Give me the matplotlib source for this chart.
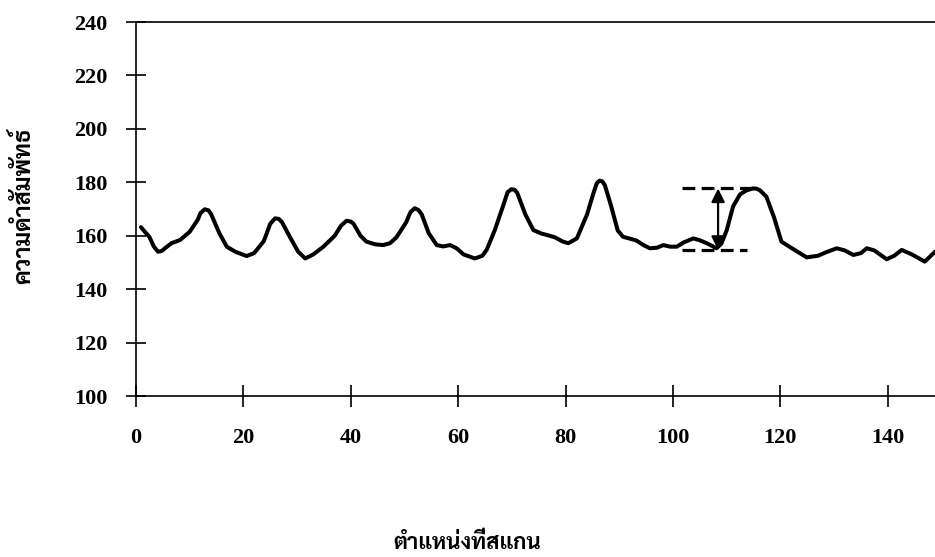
import numpy as np
import matplotlib
matplotlib.use("Agg")
import matplotlib.pyplot as plt
from matplotlib import font_manager
from matplotlib.ft2font import FT2Font

# scanned position vs relative darkness
position = [0.9, 2.5, 3.3, 4.1, 4.8, 5.5, 6.6, 8.2, 10.0, 11.5, 12.0, 12.8, 13.5, 14.0, 15.5,
            16.9, 18.5, 20.6, 22.0, 23.8, 25.0, 25.9, 26.6, 27.2, 28.8, 30.2, 31.5, 33.0,
            34.9, 37.0, 38.2, 39.2, 40.0, 40.5, 41.8, 42.9, 44.5, 46.0, 47.3, 48.5, 50.3,
            51.1, 51.9, 52.6, 53.2, 54.5, 56.0, 57.2, 58.5, 59.7, 61.0, 63.1, 64.5, 65.3,
            66.8, 68.5, 69.2, 69.9, 70.5, 71.0, 72.5, 74.0, 75.5, 76.5, 78.0, 79.5, 80.5,
            82.1, 84.0, 85.2, 85.8, 86.3, 86.8, 87.3, 88.5, 89.7, 90.7, 92.0, 93.2, 94.5,
            95.7, 97.0, 98.2, 99.5, 100.7, 102.0, 103.8, 105.0, 106.5, 108.1, 109.0, 110.0,
            111.2, 112.5, 113.7, 114.9, 115.6, 116.2, 117.4, 118.8, 120.2, 122.0, 124.9,
            127.0, 128.5, 130.5, 132.0, 133.6, 135.0, 136.1, 137.5, 139.8, 141.2, 142.6,
            144.5, 146.9, 148.8]
darkness = [163.2, 159.5, 156.0, 154.0, 154.3, 155.5, 157.2, 158.4, 161.5, 166.0, 168.5,
            169.9, 169.5, 168.0, 161.0, 155.9, 154.0, 152.4, 153.5, 158.0, 164.5, 166.5,
            166.3, 165.0, 159.0, 154.0, 151.5, 153.0, 155.9, 160.0, 163.8, 165.6, 165.3,
            164.5, 160.0, 157.8, 156.8, 156.5, 157.2, 159.4, 165.0, 168.8, 170.3, 169.6,
            168.0, 161.0, 156.5, 156.0, 156.5, 155.3, 153.0, 151.5, 152.5, 154.7, 162.0,
            172.0, 176.3, 177.4, 177.2, 176.0, 168.0, 162.1, 160.8, 160.3, 159.4, 157.8,
            157.2, 159.0, 168.0, 176.0, 179.6, 180.6, 180.4, 179.0, 171.0, 162.0, 159.6,
            158.9, 158.2, 156.5, 155.3, 155.5, 156.5, 155.9, 155.9, 157.5, 159.0, 158.3,
            157.0, 155.3, 157.0, 162.0, 171.0, 175.5, 177.0, 177.7, 177.6, 177.0, 174.6,
            167.0, 157.8, 155.5, 151.9, 152.5, 153.8, 155.3, 154.5, 152.8, 153.5, 155.3,
            154.5, 151.2, 152.5, 154.7, 153.0, 150.3, 154.0]

x_ticks = [0, 20, 40, 60, 80, 100, 120, 140]
y_ticks = [100, 120, 140, 160, 180, 200, 220, 240]

# peak height marker
span_x = 108.4
span_low = 154.7
span_high = 177.7
span_from = 101.6
span_to_low = 113.7
span_to_high = 115.3


def thai_fonts():
    # families that actually carry Thai glyphs
    found = []
    for f in font_manager.fontManager.ttflist:
        try:
            if 0x0E14 in FT2Font(f.fname).get_charmap():
                found.append(f.name)
        except Exception:
            pass
    return sorted(set(found))


thai = thai_fonts()
preferred = [f for f in ['Sarabun', 'Noto Sans Thai', 'Noto Serif Thai', 'FreeSerif'] if f in thai]
thai_family = (preferred or thai)[:1] + ['DejaVu Sans']

fig = plt.figure(figsize=(9.35, 5.57), dpi=100)
ax = fig.add_axes([0.1455, 0.289, 0.8545, 0.6715])

ax.plot(position, darkness, color='black', lw=2.9, solid_capstyle='round',
        solid_joinstyle='round')

ax.plot([span_from, span_to_low], [span_low, span_low], color='black', lw=2.3, ls=(0, (4, 2)))
ax.plot([span_from, span_to_high], [span_high, span_high], color='black', lw=2.3, ls=(0, (4, 2)))
ax.annotate('', xy=(span_x, span_high), xytext=(span_x, span_low),
            arrowprops=dict(arrowstyle='<|-|>', color='black', lw=1.6, mutation_scale=20,
                            shrinkA=0, shrinkB=0))

ax.set_xlim(0, 148.8)
ax.set_ylim(100, 240)
ax.set_xticks(x_ticks)
ax.set_yticks(y_ticks)
ax.spines['right'].set_visible(False)
for s in ['left', 'top', 'bottom']:
    ax.spines[s].set_linewidth(1.2)
ax.tick_params(axis='y', direction='inout', length=15, width=1.2, pad=13)
ax.tick_params(axis='x', direction='inout', length=16, width=1.2, pad=15)
for lab in ax.get_xticklabels() + ax.get_yticklabels():
    lab.set_fontfamily('Liberation Serif')
    lab.set_fontweight('bold')
    lab.set_fontsize(16)

fig.text(0.5, 0.025, 'ตำแหน่งที่สแกน', ha='center', va='center', fontsize=16,
         fontweight='bold', family=thai_family)
fig.text(0.025, 0.63, 'ความดำสัมพัทธ์', ha='center', va='center', rotation=90,
         fontsize=17, fontweight='bold', family=thai_family)

fig.savefig('out.png', dpi=100)
